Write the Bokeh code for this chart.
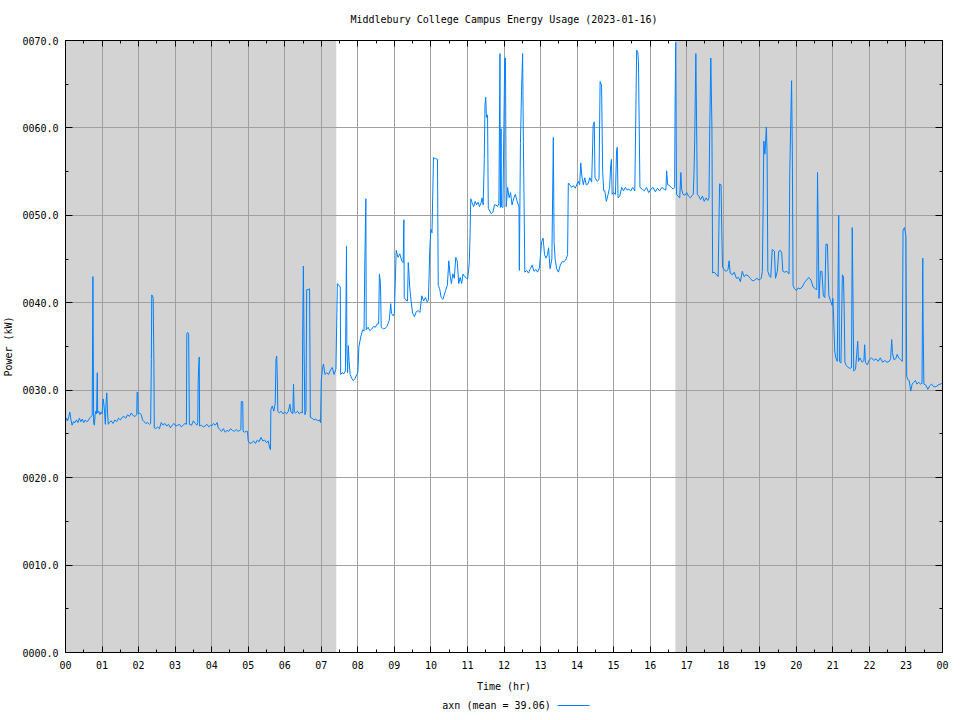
import math
from bokeh.plotting import figure
from bokeh.layouts import column
from bokeh.models import (BoxAnnotation, LinearAxis, FixedTicker, Range1d, ColumnDataSource)
from bokeh.core.properties import value
from bokeh.embed import file_html
from bokeh.resources import INLINE

# ---------------- data ----------------
title_text = "Middlebury College Campus Energy Usage (2023-01-16)"
x_label_text = "Time (hr)"
y_label_text = "Power (kW)"
legend_text = "axn (mean = 39.06)"

x_ticks = list(range(0, 25))
x_tick_labels = ["00", "01", "02", "03", "04", "05", "06", "07", "08", "09", "10", "11",
                 "12", "13", "14", "15", "16", "17", "18", "19", "20", "21", "22", "23", "00"]
y_ticks = [0, 10, 20, 30, 40, 50, 60, 70]
y_tick_labels = ["0000.0", "0010.0", "0020.0", "0030.0", "0040.0", "0050.0", "0060.0", "0070.0"]

# shaded (night) periods, hours
shade_starts = [0.0, 16.69]
shade_ends = [7.41, 24.0]

hours = [
    0.00, 0.03, 0.06, 0.09, 0.12, 0.15, 0.18, 0.22, 0.26, 0.30, 0.34, 0.38, 0.42, 0.46, 0.50, 0.54,
    0.58, 0.62, 0.66, 0.70, 0.73, 0.74, 0.75, 0.76, 0.77, 0.79, 0.81, 0.83, 0.85, 0.87, 0.88, 0.91,
    0.94, 0.97, 1.00, 1.03, 1.05, 1.07, 1.09, 1.11, 1.13, 1.15, 1.17, 1.20, 1.25, 1.30, 1.35, 1.40,
    1.45, 1.50, 1.55, 1.60, 1.65, 1.70, 1.75, 1.80, 1.85, 1.90, 1.95, 1.96, 1.98, 1.99, 2.03, 2.07,
    2.11, 2.15, 2.20, 2.25, 2.30, 2.33, 2.35, 2.36, 2.38, 2.40, 2.42, 2.43, 2.47, 2.52, 2.57, 2.62,
    2.67, 2.72, 2.77, 2.82, 2.87, 2.92, 2.97, 3.02, 3.07, 3.12, 3.17, 3.22, 3.27, 3.31, 3.32, 3.35,
    3.37, 3.38, 3.39, 3.45, 3.50, 3.55, 3.60, 3.62, 3.63, 3.64, 3.66, 3.67, 3.72, 3.77, 3.82, 3.87,
    3.92, 3.97, 4.00, 4.05, 4.10, 4.15, 4.18, 4.22, 4.27, 4.32, 4.37, 4.42, 4.47, 4.52, 4.57, 4.62,
    4.67, 4.72, 4.77, 4.80, 4.81, 4.85, 4.86, 4.90, 4.95, 4.98, 5.00, 5.05, 5.10, 5.15, 5.20, 5.25,
    5.30, 5.35, 5.40, 5.45, 5.50, 5.55, 5.58, 5.61, 5.62, 5.66, 5.70, 5.74, 5.76, 5.78, 5.80, 5.81,
    5.85, 5.90, 5.95, 6.00, 6.05, 6.10, 6.14, 6.17, 6.22, 6.24, 6.26, 6.30, 6.35, 6.40, 6.45, 6.48,
    6.49, 6.51, 6.53, 6.55, 6.58, 6.60, 6.64, 6.68, 6.69, 6.70, 6.75, 6.80, 6.85, 6.90, 6.95, 6.98,
    7.00, 7.03, 7.06, 7.10, 7.15, 7.20, 7.25, 7.30, 7.35, 7.40, 7.44, 7.48, 7.52, 7.53, 7.57, 7.62,
    7.66, 7.69, 7.70, 7.72, 7.74, 7.76, 7.79, 7.83, 7.87, 7.92, 7.97, 8.00, 8.03, 8.08, 8.13, 8.17,
    8.19, 8.22, 8.23, 8.28, 8.33, 8.38, 8.43, 8.48, 8.53, 8.57, 8.59, 8.62, 8.64, 8.70, 8.75, 8.80,
    8.86, 8.90, 8.92, 8.97, 9.00, 9.05, 9.10, 9.15, 9.20, 9.24, 9.26, 9.27, 9.31, 9.36, 9.38, 9.40,
    9.42, 9.46, 9.50, 9.55, 9.60, 9.65, 9.70, 9.75, 9.80, 9.85, 9.90, 9.93, 9.95, 9.97, 10.00, 10.03,
    10.07, 10.12, 10.18, 10.20, 10.24, 10.28, 10.33, 10.40, 10.45, 10.49, 10.52, 10.56, 10.60, 10.64, 10.68, 10.72,
    10.76, 10.80, 10.84, 10.88, 10.92, 10.96, 11.00, 11.03, 11.05, 11.07, 11.09, 11.13, 11.17, 11.21, 11.25, 11.29,
    11.33, 11.37, 11.40, 11.43, 11.46, 11.48, 11.50, 11.52, 11.55, 11.57, 11.61, 11.65, 11.70, 11.74, 11.78, 11.82,
    11.86, 11.89, 11.90, 11.92, 11.93, 11.97, 12.02, 12.04, 12.06, 12.10, 12.14, 12.18, 12.22, 12.27, 12.31, 12.36,
    12.41, 12.42, 12.45, 12.48, 12.51, 12.53, 12.55, 12.57, 12.62, 12.67, 12.72, 12.77, 12.82, 12.87, 12.92, 12.97,
    13.03, 13.07, 13.11, 13.15, 13.19, 13.22, 13.26, 13.31, 13.35, 13.37, 13.40, 13.44, 13.49, 13.54, 13.59, 13.64,
    13.69, 13.74, 13.76, 13.80, 13.85, 13.90, 13.95, 14.00, 14.03, 14.07, 14.10, 14.13, 14.17, 14.21, 14.25, 14.30,
    14.35, 14.40, 14.44, 14.47, 14.49, 14.55, 14.60, 14.63, 14.67, 14.70, 14.73, 14.76, 14.80, 14.85, 14.89, 14.92,
    14.94, 14.96, 15.00, 15.05, 15.08, 15.10, 15.12, 15.17, 15.22, 15.27, 15.32, 15.37, 15.42, 15.47, 15.52, 15.58,
    15.63, 15.66, 15.68, 15.70, 15.72, 15.78, 15.84, 15.90, 15.96, 16.02, 16.08, 16.14, 16.20, 16.26, 16.32, 16.38,
    16.43, 16.45, 16.48, 16.53, 16.58, 16.63, 16.67, 16.68, 16.70, 16.72, 16.76, 16.81, 16.84, 16.86, 16.90, 16.95,
    17.00, 17.05, 17.10, 17.15, 17.18, 17.20, 17.22, 17.25, 17.27, 17.29, 17.33, 17.38, 17.43, 17.48, 17.53, 17.58,
    17.61, 17.63, 17.66, 17.69, 17.71, 17.75, 17.80, 17.86, 17.88, 17.90, 17.94, 17.96, 17.98, 18.02, 18.08, 18.13,
    18.16, 18.19, 18.25, 18.30, 18.36, 18.42, 18.47, 18.52, 18.57, 18.62, 18.68, 18.74, 18.80, 18.86, 18.92, 18.98,
    19.04, 19.07, 19.09, 19.11, 19.14, 19.18, 19.20, 19.22, 19.26, 19.30, 19.34, 19.40, 19.43, 19.48, 19.52, 19.56,
    19.60, 19.63, 19.68, 19.74, 19.80, 19.82, 19.87, 19.89, 19.91, 19.95, 20.00, 20.05, 20.10, 20.16, 20.22, 20.28,
    20.34, 20.40, 20.46, 20.52, 20.56, 20.58, 20.60, 20.62, 20.66, 20.70, 20.74, 20.78, 20.81, 20.85, 20.87, 20.89,
    20.93, 20.98, 21.00, 21.02, 21.05, 21.08, 21.12, 21.14, 21.16, 21.18, 21.22, 21.26, 21.29, 21.31, 21.33, 21.37,
    21.42, 21.47, 21.51, 21.53, 21.55, 21.57, 21.62, 21.68, 21.70, 21.74, 21.80, 21.85, 21.87, 21.89, 21.94, 22.00,
    22.06, 22.12, 22.18, 22.24, 22.30, 22.36, 22.42, 22.48, 22.54, 22.58, 22.61, 22.63, 22.67, 22.72, 22.76, 22.80,
    22.85, 22.90, 22.92, 22.96, 23.00, 23.02, 23.05, 23.09, 23.13, 23.17, 23.21, 23.26, 23.30, 23.35, 23.40, 23.44,
    23.46, 23.47, 23.49, 23.54, 23.60, 23.65, 23.70, 23.76, 23.82, 23.88, 23.94, 24.00,
]

power_kw = [
    26.4, 26.8, 26.5, 27.0, 27.5, 26.6, 26.0, 26.4, 26.3, 26.6, 26.3, 26.8, 26.4, 26.7, 26.3, 26.6,
    26.4, 26.5, 26.8, 27.0, 27.1, 34.6, 43.0, 34.6, 26.3, 26.0, 27.2, 27.6, 27.3, 32.0, 27.4, 27.6,
    27.2, 27.5, 27.3, 29.0, 28.4, 27.5, 26.1, 28.5, 29.7, 27.5, 26.1, 26.3, 26.5, 26.2, 26.6, 26.4,
    26.8, 26.6, 26.9, 27.0, 26.8, 27.2, 27.0, 27.4, 27.1, 27.0, 27.2, 29.8, 29.7, 27.3, 27.4, 27.2,
    26.6, 26.4, 26.2, 26.3, 26.1, 26.2, 33.5, 40.9, 40.8, 40.5, 32.7, 25.7, 25.6, 25.8, 25.6, 26.3,
    26.0, 26.2, 25.9, 26.1, 25.7, 26.0, 26.2, 25.9, 26.0, 26.1, 25.8, 26.0, 26.2, 26.1, 36.5, 36.6,
    36.4, 31.3, 26.1, 26.0, 26.5, 26.2, 26.0, 26.3, 30.6, 32.2, 33.8, 25.9, 26.0, 25.8, 25.9, 26.1,
    25.8, 26.0, 25.9, 26.2, 26.0, 26.3, 25.7, 25.5, 25.3, 25.6, 25.2, 25.4, 25.3, 25.6, 25.4, 25.3,
    25.5, 25.3, 25.4, 25.5, 28.7, 28.7, 25.3, 25.2, 25.3, 25.3, 24.2, 23.9, 24.0, 24.2, 23.9, 24.3,
    24.1, 24.6, 24.2, 24.3, 24.0, 24.2, 23.5, 23.2, 27.8, 28.2, 27.6, 28.5, 33.5, 33.9, 30.7, 27.6,
    27.4, 27.6, 27.3, 27.5, 27.3, 27.6, 28.4, 27.5, 27.3, 30.7, 27.5, 27.4, 27.6, 27.3, 27.5, 27.4,
    36.0, 44.2, 34.5, 27.2, 27.6, 41.5, 41.5, 41.6, 34.4, 26.9, 26.8, 26.6, 26.7, 26.5, 26.6, 26.3,
    31.1, 32.4, 33.0, 31.8, 32.0, 31.8, 32.3, 32.6, 31.8, 32.4, 42.2, 42.0, 41.8, 31.8, 32.0, 31.9,
    32.2, 46.5, 34.8, 32.0, 35.1, 33.4, 31.8, 31.4, 31.1, 31.3, 31.8, 32.0, 35.0, 36.1, 36.9, 36.8,
    44.2, 51.9, 36.9, 37.2, 36.8, 37.0, 37.3, 37.2, 37.6, 37.6, 43.3, 42.2, 37.2, 37.0, 37.1, 37.3,
    38.0, 39.9, 38.8, 38.5, 38.8, 46.0, 45.2, 45.6, 44.8, 44.6, 49.5, 40.6, 40.3, 40.2, 44.6, 43.3,
    41.8, 40.1, 38.8, 38.4, 39.0, 39.1, 38.9, 40.8, 40.2, 40.6, 40.1, 40.3, 43.1, 46.3, 48.4, 48.0,
    56.6, 56.5, 56.4, 42.0, 41.6, 40.6, 40.4, 41.4, 42.0, 44.8, 43.3, 42.2, 43.3, 42.8, 45.2, 44.8,
    42.2, 42.9, 42.2, 43.3, 43.0, 42.9, 42.7, 43.7, 44.7, 47.5, 51.9, 51.4, 51.0, 51.6, 51.2, 51.5,
    51.0, 51.4, 52.0, 51.2, 56.4, 62.6, 63.5, 61.2, 61.5, 50.8, 50.5, 50.2, 50.4, 51.2, 51.2, 51.0,
    51.3, 68.5, 50.9, 59.9, 51.0, 50.9, 68.0, 68.0, 51.0, 53.2, 52.0, 52.6, 51.2, 52.0, 52.4, 51.6,
    51.0, 43.7, 58.2, 64.3, 68.5, 58.5, 51.2, 43.5, 43.7, 43.4, 43.9, 44.3, 43.6, 43.8, 43.5, 44.0,
    47.0, 47.4, 45.5, 45.1, 45.5, 46.3, 43.9, 45.0, 58.9, 47.0, 45.0, 43.9, 43.5, 44.3, 44.7, 44.7,
    44.9, 45.5, 53.7, 53.5, 53.2, 53.4, 53.1, 53.6, 53.9, 53.5, 56.0, 54.5, 53.5, 54.3, 53.5, 53.6,
    54.3, 53.8, 60.3, 60.7, 54.3, 53.9, 54.1, 65.3, 64.9, 55.0, 52.8, 52.8, 51.6, 52.4, 53.2, 55.7,
    56.4, 52.4, 52.6, 52.4, 57.4, 57.8, 52.0, 52.2, 53.2, 52.8, 53.2, 52.9, 53.0, 52.8, 53.2, 52.8,
    68.9, 68.7, 67.6, 60.1, 53.2, 53.0, 52.8, 53.2, 52.6, 53.0, 53.2, 52.7, 53.1, 52.8, 53.2, 53.0,
    52.9, 55.1, 53.5, 53.4, 53.2, 53.0, 53.2, 61.4, 69.8, 52.4, 52.2, 52.0, 54.9, 53.0, 52.4, 52.3,
    52.6, 52.2, 52.0, 52.3, 52.4, 54.9, 58.8, 68.5, 60.7, 52.4, 52.2, 51.8, 52.2, 51.6, 52.0, 51.7,
    52.0, 59.9, 68.0, 59.9, 43.4, 43.5, 43.3, 43.0, 48.3, 53.6, 53.5, 48.3, 44.1, 43.8, 43.6, 43.8,
    44.8, 43.4, 43.2, 43.5, 42.8, 42.9, 42.4, 43.6, 43.0, 43.2, 43.1, 42.8, 42.5, 42.6, 42.8, 42.6,
    42.8, 43.6, 50.5, 58.5, 57.0, 60.1, 57.0, 43.6, 43.1, 42.9, 46.1, 45.9, 42.8, 43.6, 45.9, 46.0,
    45.7, 43.6, 43.5, 43.6, 43.3, 54.9, 65.4, 57.4, 42.0, 41.6, 41.4, 41.7, 41.6, 41.8, 42.3, 42.6,
    42.9, 42.6, 41.8, 41.6, 41.5, 54.9, 47.6, 40.5, 43.6, 43.6, 40.8, 40.6, 46.7, 46.7, 43.6, 40.8,
    40.3, 39.7, 40.5, 38.4, 34.5, 33.7, 33.3, 41.5, 50.0, 33.3, 33.1, 43.2, 43.0, 39.2, 33.2, 32.8,
    32.6, 32.5, 32.6, 48.6, 40.8, 32.2, 32.4, 35.6, 33.3, 33.7, 33.2, 33.4, 35.2, 33.2, 32.9, 33.5,
    33.7, 33.4, 33.6, 33.3, 33.7, 33.2, 33.4, 33.2, 33.3, 33.6, 35.8, 34.3, 33.5, 33.6, 34.1, 33.7,
    33.5, 33.3, 48.3, 48.6, 47.6, 31.6, 31.2, 31.1, 29.9, 30.7, 30.9, 31.1, 30.7, 30.9, 30.7, 30.8,
    45.1, 37.7, 30.7, 30.6, 30.1, 30.5, 30.7, 30.4, 30.4, 30.6, 30.7, 30.8,
]

# ---------------- styling ----------------
FONT = "DejaVu Sans Mono"
FS = "10px"
LINE_COLOR = "#0080ff"
SHADE = "#d3d3d3"
GRID = "#a0a0a0"

p = figure(
    output_backend="svg", toolbar_location=None, title=None,
    frame_width=877, frame_height=612,
    min_border_left=64, min_border_right=11, min_border_top=40, min_border_bottom=45,
    x_range=Range1d(0, 24), y_range=Range1d(0, 70),
    x_axis_location=None, y_axis_location=None,
    background_fill_color="white", border_fill_color="white",
    align="start",
)
p.outline_line_color = "black"
p.outline_line_width = 1

xticker = FixedTicker(ticks=x_ticks, minor_ticks=[t + 0.5 for t in x_ticks[:-1]])
yticker = FixedTicker(ticks=y_ticks, minor_ticks=[t + 5 for t in y_ticks[:-1]])


def make_axis(ticker, labels, ticks, show, major_in):
    ax = LinearAxis(ticker=ticker)
    ax.major_tick_in = major_in
    ax.major_tick_out = 0
    ax.minor_tick_in = 3
    ax.minor_tick_out = 0
    ax.major_tick_line_color = "black"
    ax.minor_tick_line_color = "black"
    ax.axis_line_color = "black"
    ax.axis_label_text_font = FONT
    ax.axis_label_text_font_size = FS
    ax.axis_label_text_font_style = "normal"
    ax.axis_label_text_color = "black"
    if show:
        ax.major_label_overrides = {t: l for t, l in zip(ticks, labels)}
        ax.major_label_text_font = FONT
        ax.major_label_text_font_size = FS
        ax.major_label_text_color = "black"
    else:
        ax.major_label_text_font_size = "0px"
        ax.major_label_standoff = 0
    return ax


xb = make_axis(xticker, x_tick_labels, x_ticks, True, 6)
xb.major_label_standoff = 8
xb.axis_label = x_label_text
xb.axis_label_standoff = 9
p.add_layout(xb, "below")

# top mirror axis; its label carries the chart title
xa = make_axis(xticker, x_tick_labels, x_ticks, False, 6)
xa.axis_label = title_text
xa.axis_label_standoff = 16
p.add_layout(xa, "above")

yl = make_axis(yticker, y_tick_labels, y_ticks, True, 7)
yl.major_label_standoff = 7
yl.axis_label = y_label_text
yl.axis_label_standoff = 5
p.add_layout(yl, "left")

yr = make_axis(yticker, y_tick_labels, y_ticks, False, 7)
p.add_layout(yr, "right")

p.xgrid.ticker = xticker
p.ygrid.ticker = yticker
for g in (p.xgrid, p.ygrid):
    g.grid_line_color = GRID
    g.grid_line_width = 1

boxes = []
for s, e in zip(shade_starts, shade_ends):
    boxes.append(BoxAnnotation(left=s, right=e, fill_color=SHADE, fill_alpha=1.0,
                               line_color=None, level="underlay"))
p.center = boxes + list(p.center)

src = ColumnDataSource(dict(x=hours, y=power_kw))
p.line("x", "y", source=src, line_color=LINE_COLOR, line_width=1)

# ---------------- key strip below the chart ----------------
# same horizontal frame as the chart, so the key is placed in hour units
k = figure(
    output_backend="svg", toolbar_location=None, title=None,
    frame_width=877, frame_height=20,
    min_border_left=64, min_border_right=11, min_border_top=0, min_border_bottom=0,
    x_range=Range1d(0, 24), y_range=Range1d(0, 20),
    x_axis_location=None, y_axis_location=None,
    background_fill_color="white", border_fill_color="white",
    align="start",
)
k.outline_line_color = None
k.xgrid.visible = False
k.ygrid.visible = False

px_hr = 877 / 24.0
key_text_x = (495 - 64) / px_hr
key_line_x = [(556 - 64) / px_hr, (588 - 64) / px_hr]
k.text(x=[key_text_x], y=[12], text=[legend_text], text_align="center", text_baseline="middle",
       text_font=value(FONT), text_font_size=value(FS), text_color="black")
k.line(x=key_line_x, y=[12, 12], line_color=LINE_COLOR, line_width=1)

layout = column(p, k, spacing=0, align="start")
open("out.html", "w").write(file_html(layout, INLINE))
